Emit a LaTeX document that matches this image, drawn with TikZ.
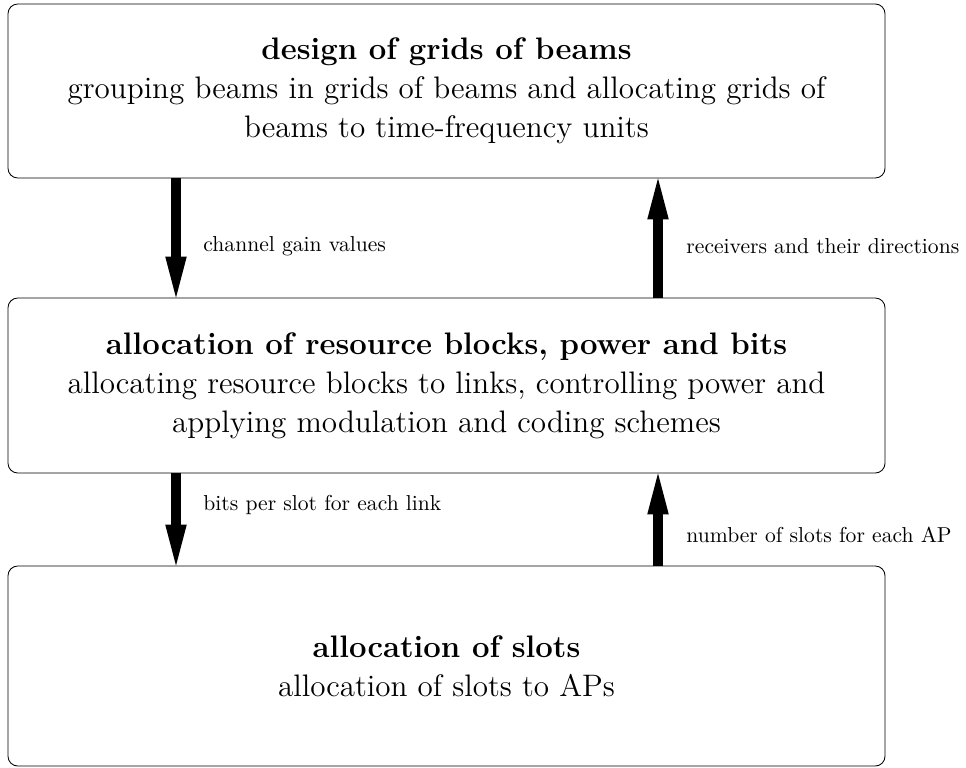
\documentclass[tikz,border=0pt]{standalone}
\usetikzlibrary{arrows.meta}
\begin{document}
\begin{tikzpicture}[x=0.463pt,y=-0.463pt,
  stage/.style={draw, rounded corners=4.5pt, minimum width=877*0.463pt,
    align=center, font=\fontsize{14.4}{18}\selectfont, inner sep=0pt},
  flow/.style={line width=5pt, -{Triangle[length=19pt,width=10pt,line width=0pt]}},
  note/.style={anchor=west, font=\fontsize{10}{12}\selectfont, inner sep=0pt}]
\useasboundingbox (0,0) rectangle (966,767);

% the three processing stages
\node[stage, minimum height=174*0.463pt] (grid) at (446.5,91)
  {\textbf{design of grids of beams}\\
   grouping beams in grids of beams and allocating grids of\\
   beams to time-frequency units};
\node[stage, minimum height=175*0.463pt] (rb) at (446.5,385.5)
  {\textbf{allocation of resource blocks, power and bits}\\
   allocating resource blocks to links, controlling power and\\
   applying modulation and coding schemes};
\node[stage, minimum height=200*0.463pt] (slot) at (446.5,666)
  {\textbf{allocation of slots}\\
   allocation of slots to APs};

% columns of the downward and upward connectors
\coordinate (down) at (176,0);
\coordinate (up) at (658,0);

\draw[flow] (grid.south -| down) -- (rb.north -| down);
\draw[flow] (rb.north -| up) -- (grid.south -| up);
\draw[flow] (rb.south -| down) -- (slot.north -| down);
\draw[flow] (slot.north -| up) -- (rb.south -| up);

% connector labels
\node[note] (l1) at (203,246) {channel gain values};
\node[note] (l2) at (686,246) {receivers and their directions};
\node[note] (l3) at (203,505) {bits per slot for each link};
\node[note] (l4) at (686,535) {number of slots for each AP};
\end{tikzpicture}
\end{document}
